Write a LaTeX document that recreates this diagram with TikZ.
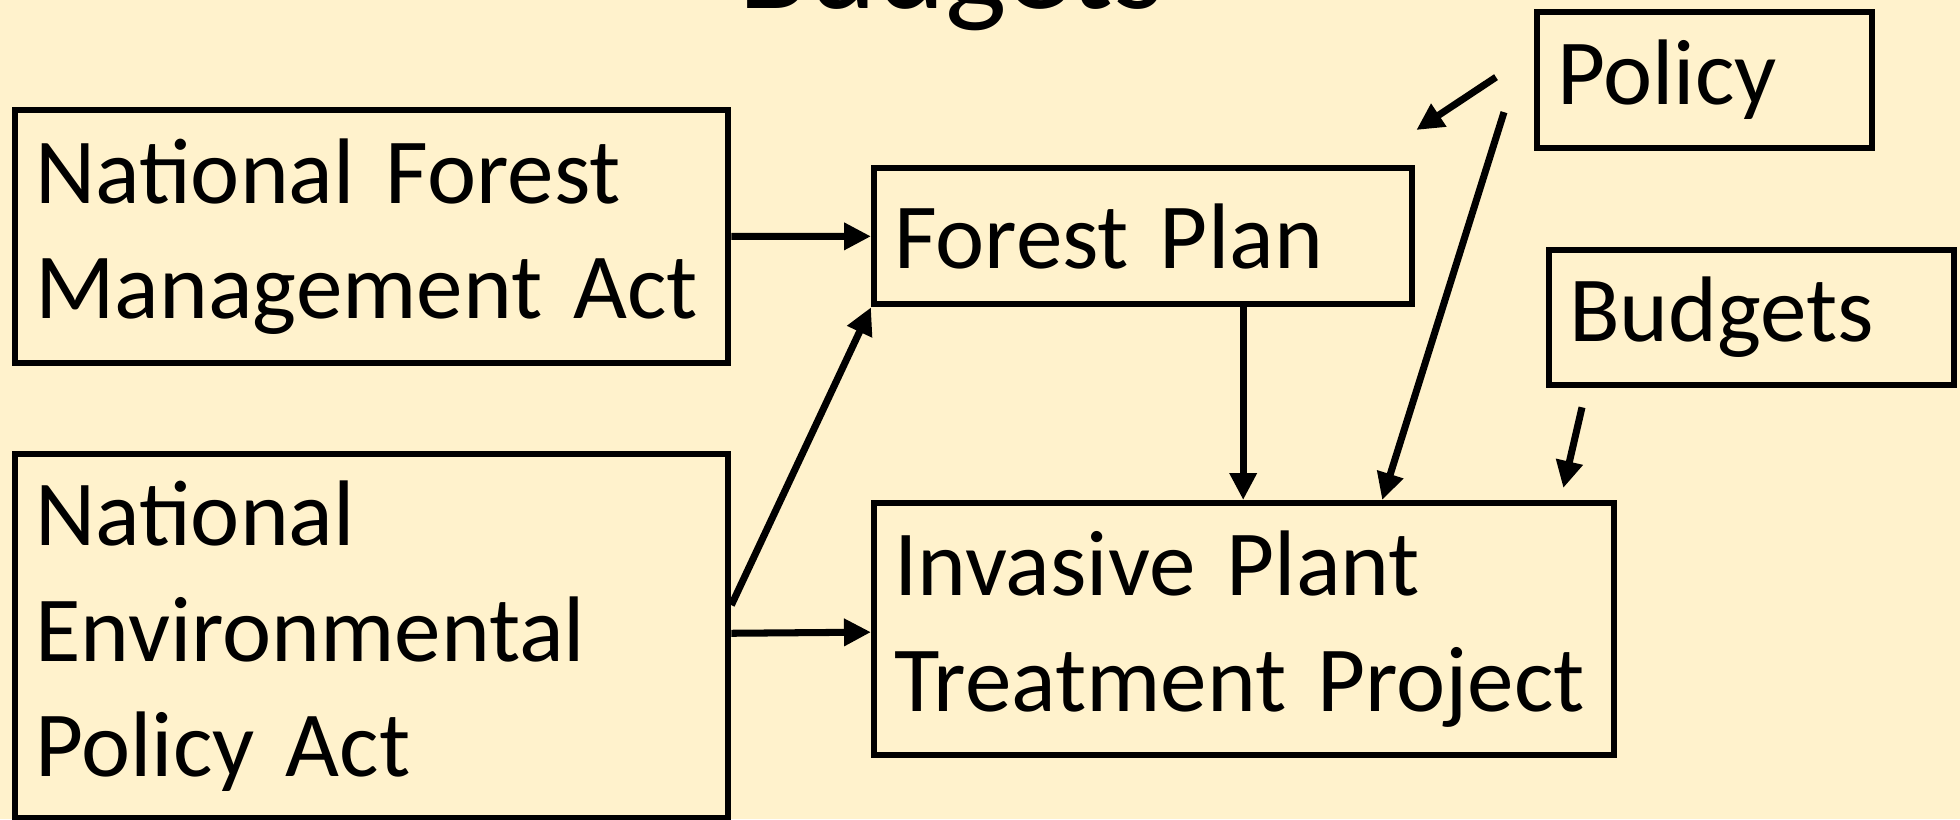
\documentclass[tikz,border=0pt]{standalone}
\usepackage{fontspec}
\setmainfont{Carlito}
\usetikzlibrary{arrows.meta}
\definecolor{cream}{HTML}{FFF2CC}

\begin{document}
\begin{tikzpicture}[
    box/.style={draw,line width=1.8pt,anchor=north west,align=left,
      inner xsep=0.2cm,inner ysep=0pt,
      font=\fontsize{26.5}{33}\selectfont},
    arr/.style={line width=2pt,-{Triangle[length=0.27cm,width=0.26cm]}}]
    \fill [cream] (0,0) rectangle (19.6,8.19);
    \useasboundingbox (0,0) rectangle (19.6,8.19);
    \path (9.51,8.10) node [anchor=base,font=\fontsize{37}{44}\selectfont] (title) {Budgets};
    \path (0.12,7.12) node [box,text width=6.73cm,minimum height=2.53cm] (nfma)
	{National Forest\\Management Act};
    \path (0.12,3.68) node [box,text width=6.73cm,minimum height=3.64cm] (nepa)
	{National\\Environmental\\Policy Act};
    \path (8.71,6.54) node [box,text width=4.98cm,minimum height=1.36cm] (fp) {Forest Plan};
    \path (8.71,3.19) node [box,text width=7.00cm,minimum height=2.52cm] (ipt)
	{Invasive Plant\\Treatment Project};
    \path (15.34,8.10) node [box,text width=2.95cm,minimum height=1.36cm] (pol) {Policy};
    \path (15.46,5.72) node [box,text width=3.65cm,minimum height=1.35cm] (bud) {Budgets};
    % loose arrow ends
    \coordinate (polA) at ([xshift=-0.38cm,yshift=0.03cm]pol.west);
    \coordinate (polB) at ([xshift=-0.30cm,yshift=-0.32cm]pol.west);
    \coordinate (fpNE) at ([xshift=0.01cm,yshift=0.35cm]fp.north east);
    \coordinate (budA) at ([xshift=0.36cm,yshift=-0.19cm]bud.south west);
    \coordinate (iptNE) at ([xshift=-0.54cm,yshift=0.12cm]ipt.north east);
    \draw [arr] (nfma) -- (fp);
    \draw [arr] ([yshift=0.31cm]nepa.east) -- (fp.south west);
    \draw [arr] (nepa) -- (ipt);
    \draw [arr] ([xshift=1cm]fp.south) -- ([xshift=1cm]fp.south |- ipt.north);
    \draw [arr] (polA) -- (fpNE);
    \draw [arr] (polB) -- ([xshift=1.38cm]ipt.north);
    \draw [arr] (budA) -- (iptNE);
\end{tikzpicture}
\end{document}
